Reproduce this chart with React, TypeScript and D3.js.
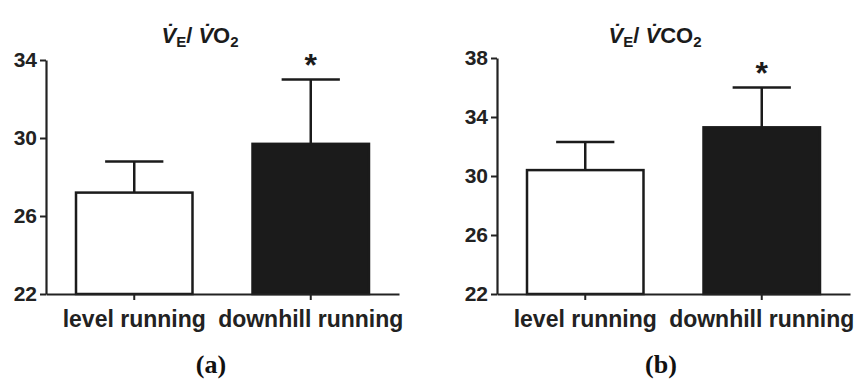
import React, { useEffect, useRef } from 'react';
import * as d3 from 'd3';

// data
const categories = ['level running', 'downhill running'];

const veVo2Means = [27.2, 29.7];
const veVo2Sd = [1.6, 3.3];
const veVo2Ticks = [22, 26, 30, 34];

const veVco2Means = [30.4, 33.3];
const veVco2Sd = [1.9, 2.7];
const veVco2Ticks = [22, 26, 30, 34, 38];

const significant = [false, true];

const Panel = ({ left, yTop, yMin, yMax, ticks, means, sds, gas, label, titleX, labelX }) => {
  const ref = useRef();

  useEffect(() => {
    const g = d3.select(ref.current);
    g.selectAll('*').remove();

    const axisLeftX = left;
    const axisRight = left + 353;
    const bottom = 294;

    const x = d3.scaleBand()
      .domain(categories)
      .range([axisLeftX, axisRight])
      .paddingInner(0.34)
      .paddingOuter(0.17);

    const y = d3.scaleLinear().domain([yMin, yMax]).range([bottom, yTop]);

    const font = '"Liberation Sans", Arial, sans-serif';

    // bars
    g.selectAll('rect.bar')
      .data(means)
      .enter()
      .append('rect')
      .attr('class', 'bar')
      .attr('x', (d, i) => x(categories[i]))
      .attr('y', d => y(d))
      .attr('width', x.bandwidth())
      .attr('height', d => bottom - y(d))
      .attr('fill', (d, i) => i === 0 ? '#fff' : '#1b1b1b')
      .attr('stroke', '#1b1b1b')
      .attr('stroke-width', 2.5);

    // error bars (upper only)
    const capW = x.bandwidth() / 2;
    means.forEach((m, i) => {
      const cx = x(categories[i]) + x.bandwidth() / 2;
      g.append('line')
        .attr('x1', cx).attr('x2', cx)
        .attr('y1', y(m)).attr('y2', y(m + sds[i]))
        .attr('stroke', '#1b1b1b').attr('stroke-width', 2.5);
      g.append('line')
        .attr('x1', cx - capW / 2).attr('x2', cx + capW / 2)
        .attr('y1', y(m + sds[i])).attr('y2', y(m + sds[i]))
        .attr('stroke', '#1b1b1b').attr('stroke-width', 2.5);
      if (significant[i]) {
        g.append('text')
          .attr('x', cx)
          .attr('y', y(m + sds[i]) - 4)
          .attr('text-anchor', 'middle')
          .attr('font-family', font)
          .attr('font-weight', 'bold')
          .attr('font-size', 32)
          .attr('fill', '#1b1b1b')
          .text('*');
      }
    });

    // y axis
    const yAxis = g.append('g')
      .attr('transform', `translate(${axisLeftX},0)`)
      .call(d3.axisLeft(y).tickValues(ticks).tickSize(6).tickPadding(3).tickSizeOuter(0));
    yAxis.select('.domain').attr('stroke', '#222').attr('stroke-width', 2.2);
    yAxis.selectAll('.tick line').attr('stroke', '#222').attr('stroke-width', 2);
    yAxis.selectAll('.tick text')
      .attr('font-family', font)
      .attr('font-weight', 'bold')
      .attr('font-size', 21)
      .attr('fill', '#222');

    // x axis
    const xAxis = g.append('g')
      .attr('transform', `translate(0,${bottom})`)
      .call(d3.axisBottom(x).tickSize(6).tickPadding(11).tickSizeOuter(0));
    xAxis.select('.domain').attr('stroke', '#222').attr('stroke-width', 2.2);
    xAxis.selectAll('.tick line').attr('stroke', '#222').attr('stroke-width', 2);
    xAxis.selectAll('.tick text')
      .attr('font-family', font)
      .attr('font-weight', 'bold')
      .attr('font-size', 23)
      .attr('fill', '#222');

    // title  V̇E / V̇O2
    const t = g.append('text')
      .attr('x', titleX)
      .attr('y', 43)
      .attr('text-anchor', 'middle')
      .attr('font-family', font)
      .attr('font-weight', 'bold')
      .attr('font-size', 22)
      .attr('fill', '#1b1b1b');
    t.append('tspan').attr('font-style', 'italic').text('V\u0307');
    t.append('tspan').attr('font-size', 15).attr('dy', 4).text('E');
    t.append('tspan').attr('dy', -4).text('/ ');
    t.append('tspan').attr('font-style', 'italic').text('V\u0307');
    t.append('tspan').text(gas);
    t.append('tspan').attr('font-size', 15).attr('dy', 4).text('2');

    // panel label
    g.append('text')
      .attr('x', labelX)
      .attr('y', 373)
      .attr('text-anchor', 'middle')
      .attr('font-family', '"Liberation Serif", "Times New Roman", serif')
      .attr('font-weight', 'bold')
      .attr('font-size', 26)
      .attr('fill', '#111')
      .text(label);
  }, []);

  return <g ref={ref}></g>;
};

export default function App() {
  return (
    <div style={{ position: 'absolute', left: 0, top: 0 }}>
      <svg width={859} height={381} style={{ display: 'block', background: '#fff' }}>
        <Panel left={46} yTop={60} yMin={22} yMax={34} ticks={veVo2Ticks}
          means={veVo2Means} sds={veVo2Sd} gas="O" label="(a)" titleX={200} labelX={211} />
        <Panel left={497} yTop={58} yMin={22} yMax={38} ticks={veVco2Ticks}
          means={veVco2Means} sds={veVco2Sd} gas="CO" label="(b)" titleX={655} labelX={661} />
      </svg>
    </div>
  );
}
